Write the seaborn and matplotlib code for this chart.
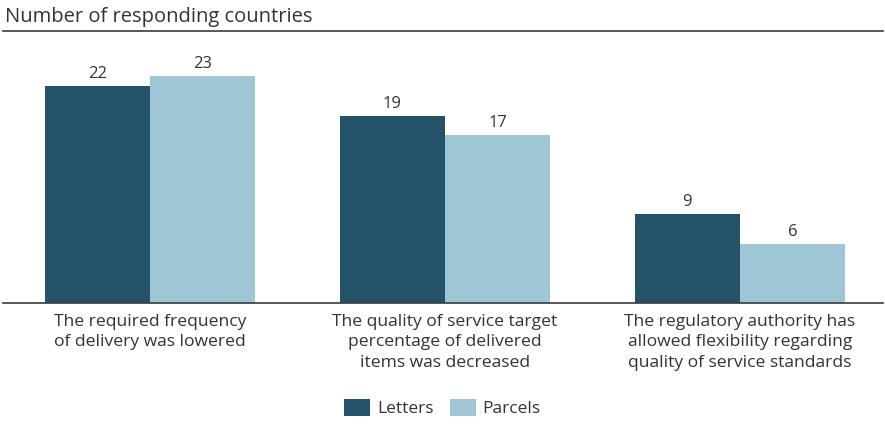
import matplotlib
matplotlib.use("Agg")
import matplotlib.pyplot as plt
import seaborn as sns
import pandas as pd

categories = [
    "The required frequency\nof delivery was lowered",
    "The quality of service target\npercentage of delivered\nitems was decreased",
    "The regulatory authority has\nallowed flexibility regarding\nquality of service standards",
]
series = ["Letters", "Parcels"]
letters = [22, 19, 9]
parcels = [23, 17, 6]
colors = ["#245369", "#9fc6d4"]

df = pd.DataFrame({
    "category": categories * 2,
    "series": [series[0]] * 3 + [series[1]] * 3,
    "value": letters + parcels,
})

sns.set_theme(style="white")
plt.rcParams["font.family"] = ["Open Sans", "DejaVu Sans"]
text_color = "#333333"

fig = plt.figure(figsize=(8.85, 4.3), dpi=100)
ax = fig.add_axes([2.5 / 885, 1 - 303 / 430, 1.0, (303 - 31) / 430])

sns.barplot(data=df, x="category", y="value", hue="series", palette=colors,
            width=0.715, gap=0, saturation=1, linewidth=0, ax=ax, legend=True)

for cont in ax.containers:
    ax.bar_label(cont, padding=3, fontsize=12, color=text_color)

ax.set_xlim(-0.5, 2.5)
ax.set_ylim(0, 27.6)
ax.set_xlabel("")
ax.set_ylabel("")
ax.set_yticks([])
ax.set_xticks(range(len(categories)))
ax.set_xticklabels(categories, linespacing=1.35)
ax.tick_params(axis="x", length=0, pad=8, labelsize=12.6, labelcolor=text_color)
for spine in ["left", "right"]:
    ax.spines[spine].set_visible(False)
for spine in ["top", "bottom"]:
    ax.spines[spine].set_color("#3a3a3a")
    ax.spines[spine].set_linewidth(1.2)
ax.spines["bottom"].set_bounds(-0.5, 2.485)
ax.spines["top"].set_bounds(-0.5, 2.485)

fig.text(0.006, 1 - 17 / 430, "Number of responding countries", fontsize=14.5,
         color=text_color, va="center", ha="left")

handles, labels = ax.get_legend_handles_labels()
ax.legend_.remove()
fig.legend(handles, labels, loc="center", bbox_to_anchor=(0.5, 1 - 408 / 430),
           ncol=2, frameon=False, fontsize=12.5, handlelength=1.5, handleheight=1.1,
           columnspacing=0.9, handletextpad=0.4, labelcolor=text_color)

fig.savefig("out.png", dpi=100)
